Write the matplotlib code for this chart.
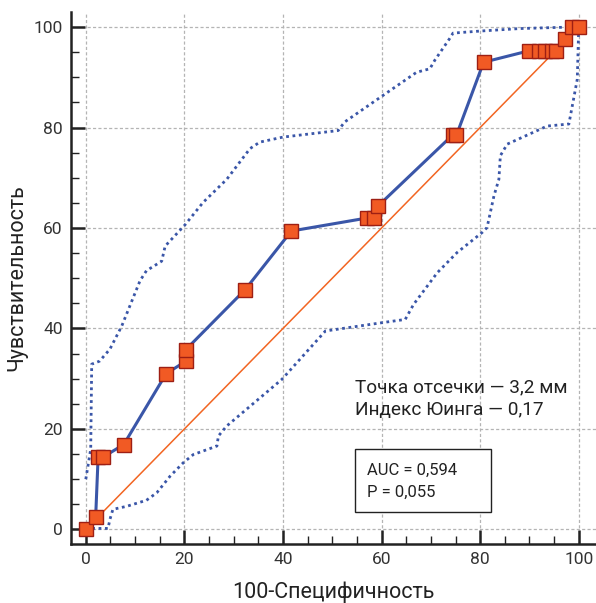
import matplotlib.pyplot as plt
from matplotlib.patches import Rectangle
from matplotlib.ticker import MultipleLocator

plt.rcParams['font.family'] = ['Roboto', 'DejaVu Sans']

# ROC points (100-specificity, sensitivity)
roc_x = [0, 2, 2.5, 3.5, 7.7, 16.3, 20.3, 20.3, 32.3, 41.7, 57.1, 58.5, 59.3,
         74.4, 75.2, 80.7, 90.0, 91.9, 93.1, 94.5, 95.3, 97.2, 98.6, 100]
roc_y = [0, 2.4, 14.4, 14.4, 16.9, 31.0, 33.5, 35.8, 47.7, 59.4, 62.0, 62.0, 64.4,
         78.5, 78.5, 93.0, 95.3, 95.3, 95.3, 95.3, 95.3, 97.6, 100, 100]

# confidence bands
upper_x = [0, 0.1, 1.0, 1.2, 2.8, 4.9, 7.3, 11.0, 12.3, 15.4, 16.1, 20.1, 23.8,
           28.6, 33.3, 35.3, 40.0, 51.2, 52.5, 60.3, 67.1, 69.8, 70.8, 73.8,
           74.5, 79.9, 88.0, 98.2]
upper_y = [10, 10.6, 16, 32.9, 33.5, 35.9, 40.5, 49.5, 51.5, 53.4, 56.4, 60.6, 65.1,
           69.7, 75.8, 77.1, 78.1, 79.4, 81.1, 86.4, 91.0, 91.7, 93.4, 97.7,
           98.8, 99.2, 99.7, 100]

lower_x = [0, 4.5, 4.9, 5.5, 8.3, 12.3, 14.4, 17.1, 19.8, 21.8, 26.6, 26.9, 28.6,
           37.4, 39.8, 48.6, 60.4, 64.8, 66.5, 71.3, 75.3, 80.4, 81.4, 82.8,
           83.8, 84.1, 85.5, 93.6, 98.0, 99.7, 100]
lower_y = [0.2, 0.2, 2, 4, 4.6, 5.8, 7.3, 10.6, 13.3, 14.9, 16.6, 18.6, 20.6,
           27.9, 29.9, 39.5, 41.2, 41.8, 44.8, 51.1, 55.1, 59.1, 60.1, 66.4,
           69.7, 74.4, 76.7, 80.3, 80.7, 89.6, 100]

cutoff_text = ["Точка отсечки — 3,2 мм", "Индекс Юинга — 0,17"]
stats_text = ["AUC = 0,594", "P = 0,055"]

blue = '#3a56a8'
orange = '#f26522'

fig = plt.figure(figsize=(5.96, 6.03), dpi=100)
ax = fig.add_axes([71 / 596, 59 / 603, 525 / 596, 532 / 603])

ax.set_xlim(-3, 103.5)
ax.set_ylim(-2.9, 103)

ax.grid(True, which='major', color='#b4b4b4', linestyle=(0, (2.5, 1.8)), linewidth=0.9)
ax.set_axisbelow(True)

ax.plot([0, 100], [0, 100], color=orange, linewidth=1.1, zorder=2)
ax.plot(upper_x, upper_y, color=blue, linestyle=(0, (1, 1.3)), linewidth=2, zorder=2)
ax.plot(lower_x, lower_y, color=blue, linestyle=(0, (1, 1.3)), linewidth=2, zorder=2)
ax.plot(roc_x, roc_y, color=blue, linewidth=2.2, marker='s', markersize=10.5,
        markerfacecolor='#f15a24', markeredgecolor='#9e1f14', markeredgewidth=1,
        zorder=3)

for s in ['top', 'right']:
    ax.spines[s].set_visible(False)
for s in ['left', 'bottom']:
    ax.spines[s].set_linewidth(1.8)
    ax.spines[s].set_color('#222222')

ax.xaxis.set_major_locator(MultipleLocator(20))
ax.xaxis.set_minor_locator(MultipleLocator(5))
ax.yaxis.set_major_locator(MultipleLocator(20))
ax.yaxis.set_minor_locator(MultipleLocator(5))
ax.tick_params(which='major', direction='in', length=10, width=1.8, color='#222222',
               labelsize=12.5, labelcolor='#333333', pad=6)
ax.tick_params(which='minor', direction='in', length=6, width=1, color='#222222')

ax.set_xlabel("100-Специфичность", fontsize=15.5, color='#222222', labelpad=10)
ax.set_ylabel("Чувствительность", fontsize=15.5, color='#222222', labelpad=4)

ax.text(54.6, 28.3, cutoff_text[0], fontsize=13.7, color='#222222', va='center')
ax.text(54.6, 23.7, cutoff_text[1], fontsize=13.7, color='#222222', va='center')

ax.add_patch(Rectangle((54.6, 3.4), 27.6, 12.6, fill=True, facecolor='white',
                       edgecolor='#222222', linewidth=1, zorder=4))
ax.text(57, 11.8, stats_text[0], fontsize=12, color='#222222', va='center', zorder=5)
ax.text(57, 7.4, stats_text[1], fontsize=12, color='#222222', va='center', zorder=5)

plt.savefig("out.png", dpi=100)
